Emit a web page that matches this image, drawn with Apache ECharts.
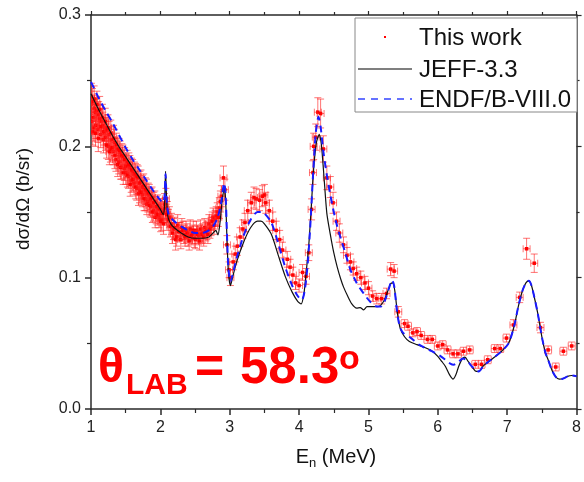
<!DOCTYPE html>
<html>
<head>
<meta charset="utf-8">
<script src="https://cdn.jsdelivr.net/npm/echarts@6/dist/echarts.min.js"></script>
<style>
html,body{margin:0;padding:0;background:#fff;}
#chart{width:584px;height:482px;}
</style>
</head>
<body>
<div id="chart"></div>
<script>
// ---------- DATA ----------
// Experimental data: [E (MeV), dσ/dΩ (b/sr), y-error]
const thisWork = [
[1.00,0.232,0.010],[1.01,0.219,0.010],[1.02,0.234,0.010],[1.03,0.222,0.010],[1.04,0.214,0.010],
[1.05,0.229,0.010],[1.06,0.226,0.010],[1.07,0.216,0.010],[1.08,0.227,0.010],[1.10,0.213,0.010],
[1.11,0.224,0.010],[1.12,0.221,0.010],[1.14,0.209,0.010],[1.15,0.219,0.010],[1.17,0.216,0.010],
[1.18,0.205,0.010],[1.20,0.214,0.010],[1.21,0.207,0.010],[1.23,0.212,0.010],[1.25,0.200,0.010],
[1.26,0.209,0.010],[1.28,0.198,0.010],[1.30,0.205,0.010],[1.32,0.196,0.010],[1.34,0.203,0.010],
[1.36,0.190,0.009],[1.38,0.198,0.009],[1.40,0.188,0.009],[1.42,0.195,0.009],[1.44,0.184,0.009],
[1.46,0.192,0.009],[1.48,0.183,0.009],[1.50,0.180,0.009],[1.52,0.188,0.009],[1.54,0.177,0.009],
[1.56,0.184,0.009],[1.58,0.174,0.009],[1.60,0.181,0.009],[1.62,0.172,0.009],[1.64,0.178,0.009],
[1.66,0.168,0.009],[1.68,0.176,0.009],[1.70,0.166,0.009],[1.72,0.173,0.009],[1.74,0.163,0.009],
[1.76,0.170,0.009],[1.78,0.160,0.009],[1.80,0.166,0.009],[1.82,0.158,0.008],[1.84,0.163,0.008],
[1.86,0.154,0.008],[1.88,0.161,0.008],[1.90,0.151,0.008],[1.92,0.158,0.008],[1.94,0.149,0.008],
[1.96,0.155,0.008],[1.98,0.146,0.008],[2.00,0.152,0.008],[2.02,0.144,0.008],[2.04,0.150,0.008],
[2.06,0.156,0.008],[2.08,0.160,0.008],[2.10,0.150,0.008],[2.13,0.146,0.008],[2.16,0.141,0.008],
[2.19,0.137,0.008],[2.22,0.129,0.008],[2.25,0.140,0.008],[2.28,0.135,0.007],[2.31,0.138,0.007],
[2.34,0.133,0.007],[2.37,0.136,0.007],[2.40,0.131,0.007],[2.43,0.137,0.007],[2.46,0.133,0.007],
[2.49,0.130,0.007],[2.52,0.136,0.007],[2.55,0.132,0.007],[2.58,0.137,0.007],[2.61,0.134,0.007],
[2.64,0.138,0.007],[2.67,0.136,0.007],[2.70,0.141,0.007],[2.73,0.139,0.007],[2.76,0.146,0.007],
[2.79,0.144,0.007],[2.82,0.150,0.007],[2.85,0.153,0.008],[2.88,0.162,0.008],[2.91,0.176,0.009],
[2.93,0.167,0.008],[2.96,0.125,0.007],[2.99,0.106,0.006],[3.01,0.100,0.006],[3.05,0.112,0.006],
[3.08,0.118,0.006],[3.11,0.124,0.007],[3.15,0.131,0.007],[3.19,0.137,0.007],[3.22,0.142,0.007],
[3.26,0.151,0.008],[3.31,0.157,0.008],[3.35,0.161,0.008],[3.38,0.160,0.008],[3.43,0.159,0.008],
[3.47,0.162,0.008],[3.50,0.163,0.008],[3.52,0.157,0.008],[3.57,0.151,0.008],[3.62,0.143,0.007],
[3.67,0.136,0.007],[3.72,0.129,0.007],[3.76,0.121,0.006],[3.83,0.114,0.006],[3.87,0.108,0.006],
[3.91,0.102,0.006],[3.95,0.096,0.005],[4.00,0.094,0.005],[4.05,0.104,0.006],[4.10,0.101,0.006],
[4.14,0.119,0.006],[4.18,0.152,0.008],[4.20,0.180,0.009],[4.21,0.200,0.010],[4.24,0.207,0.010],
[4.27,0.226,0.011],[4.31,0.225,0.011],[4.35,0.198,0.010],[4.40,0.176,0.009],[4.45,0.169,0.008],
[4.49,0.157,0.008],[4.54,0.143,0.007],[4.58,0.134,0.007],[4.64,0.125,0.006],[4.69,0.117,0.006],
[4.74,0.112,0.006],[4.78,0.107,0.005],[4.83,0.103,0.005],[4.89,0.100,0.005],[4.95,0.096,0.005],
[5.00,0.092,0.005],[5.06,0.086,0.004],[5.12,0.084,0.004],[5.19,0.084,0.004],[5.26,0.088,0.004],
[5.32,0.1065,0.005],[5.37,0.105,0.005],[5.43,0.074,0.004],[5.52,0.065,0.003],[5.57,0.063,0.003],
[5.64,0.058,0.003],[5.70,0.059,0.003],[5.76,0.056,0.003],[5.85,0.053,0.003],[5.92,0.053,0.003],
[6.00,0.048,0.003],[6.07,0.049,0.003],[6.14,0.045,0.003],[6.22,0.042,0.003],[6.29,0.042,0.003],
[6.37,0.044,0.003],[6.46,0.045,0.003],[6.54,0.034,0.003],[6.63,0.034,0.003],[6.72,0.0375,0.003],
[6.82,0.046,0.003],[6.90,0.046,0.003],[6.99,0.054,0.003],[7.09,0.064,0.004],[7.18,0.085,0.004],
[7.28,0.122,0.008],[7.39,0.111,0.007],[7.48,0.062,0.004],[7.59,0.045,0.003],[7.70,0.032,0.003],
[7.81,0.044,0.003],[7.93,0.048,0.003],
// interleaved dense points below 2.9 MeV
[1.005,0.238,0.010],[1.025,0.211,0.010],[1.045,0.236,0.010],[1.065,0.210,0.010],[1.085,0.232,0.010],
[1.105,0.206,0.010],[1.125,0.228,0.010],[1.145,0.215,0.010],[1.165,0.222,0.010],[1.185,0.211,0.010],
[1.205,0.219,0.010],[1.225,0.201,0.010],[1.245,0.214,0.010],[1.265,0.196,0.010],[1.285,0.210,0.010],
[1.305,0.199,0.010],[1.325,0.206,0.010],[1.345,0.193,0.010],[1.365,0.201,0.009],[1.385,0.186,0.009],
[1.405,0.197,0.009],[1.425,0.184,0.009],[1.445,0.193,0.009],[1.465,0.180,0.009],[1.485,0.190,0.009],
[1.505,0.185,0.009],[1.525,0.178,0.009],[1.545,0.186,0.009],[1.565,0.171,0.009],[1.585,0.182,0.009],
[1.605,0.175,0.009],[1.625,0.179,0.009],[1.645,0.169,0.009],[1.665,0.177,0.009],[1.685,0.164,0.009],
[1.705,0.172,0.009],[1.725,0.165,0.009],[1.745,0.169,0.009],[1.765,0.160,0.009],[1.785,0.167,0.009],
[1.805,0.156,0.008],[1.825,0.164,0.008],[1.845,0.155,0.008],[1.865,0.160,0.008],[1.885,0.150,0.008],
[1.905,0.157,0.008],[1.925,0.146,0.008],[1.945,0.154,0.008],[1.965,0.148,0.008],[1.985,0.152,0.008],
[2.005,0.143,0.008],[2.025,0.149,0.008],[2.045,0.141,0.008],[2.07,0.153,0.008],[2.09,0.148,0.008],
[2.115,0.144,0.008],[2.145,0.139,0.008],[2.175,0.134,0.008],[2.205,0.138,0.008],[2.235,0.131,0.007],
[2.265,0.135,0.007],[2.295,0.129,0.007],[2.325,0.136,0.007],[2.355,0.131,0.007],[2.385,0.134,0.007],
[2.415,0.128,0.007],[2.445,0.132,0.007],[2.475,0.136,0.007],[2.505,0.129,0.007],[2.535,0.133,0.007],
[2.565,0.128,0.007],[2.595,0.133,0.007],[2.625,0.131,0.007],[2.655,0.135,0.007],[2.685,0.133,0.007],
[2.715,0.137,0.007],[2.745,0.143,0.007],[2.775,0.140,0.007],[2.805,0.147,0.007],[2.835,0.146,0.007],
[2.865,0.158,0.008]
];
const xErr = 0.05;

// JEFF-3.3 evaluation: [E, value]
const jeff = [
[1.00,0.240],[1.10,0.229],[1.20,0.219],[1.30,0.209],[1.40,0.200],[1.50,0.192],[1.60,0.184],
[1.70,0.176],[1.80,0.168],[1.90,0.160],[2.00,0.152],[2.04,0.148],[2.06,0.155],[2.075,0.181],
[2.09,0.160],[2.11,0.146],[2.15,0.141],[2.20,0.138],[2.30,0.134],[2.40,0.131],[2.50,0.130],
[2.60,0.130],[2.70,0.131],[2.76,0.134],[2.80,0.136],[2.83,0.1325],[2.86,0.142],[2.89,0.158],
[2.92,0.168],[2.94,0.160],[2.96,0.130],[2.98,0.105],[3.01,0.094],[3.04,0.100],[3.10,0.112],
[3.20,0.127],[3.30,0.138],[3.40,0.143],[3.45,0.143],[3.50,0.141],[3.60,0.133],[3.70,0.117],
[3.80,0.101],[3.90,0.089],[3.98,0.082],[4.03,0.080],[4.07,0.088],[4.10,0.103],[4.14,0.125],
[4.17,0.149],[4.21,0.183],[4.25,0.203],[4.29,0.209],[4.32,0.202],[4.36,0.176],[4.40,0.149],
[4.45,0.133],[4.50,0.119],[4.55,0.108],[4.60,0.099],[4.64,0.093],[4.70,0.086],[4.76,0.080],
[4.83,0.0768],[4.88,0.0772],[4.93,0.0755],[4.98,0.078],[5.05,0.078],[5.14,0.078],[5.22,0.082],
[5.28,0.090],[5.32,0.0955],[5.35,0.096],[5.38,0.090],[5.42,0.072],[5.46,0.061],[5.52,0.055],
[5.59,0.0514],[5.70,0.049],[5.83,0.0464],[5.92,0.044],[6.00,0.040],[6.06,0.036],[6.11,0.0324],
[6.17,0.026],[6.22,0.0228],[6.26,0.026],[6.30,0.0324],[6.35,0.038],[6.39,0.0395],[6.44,0.036],
[6.49,0.0324],[6.54,0.029],[6.59,0.0286],[6.66,0.033],[6.73,0.036],[6.83,0.040],[6.92,0.044],
[7.02,0.050],[7.10,0.063],[7.16,0.078],[7.22,0.090],[7.27,0.096],[7.31,0.0976],[7.35,0.094],
[7.40,0.083],[7.44,0.073],[7.50,0.055],[7.55,0.043],[7.59,0.0375],[7.65,0.029],[7.70,0.0245],
[7.75,0.0228],[7.80,0.023],[7.87,0.0248],[7.93,0.0255],[8.00,0.025]
];

// ENDF/B-VIII.0 evaluation: [E, value]
const endf = [
[1.00,0.249],[1.10,0.238],[1.20,0.228],[1.30,0.219],[1.40,0.209],[1.50,0.199],[1.60,0.190],
[1.70,0.182],[1.80,0.174],[1.90,0.166],[2.00,0.159],[2.04,0.157],[2.06,0.162],[2.075,0.179],
[2.09,0.160],[2.12,0.148],[2.20,0.143],[2.30,0.139],[2.40,0.136],[2.50,0.134],[2.60,0.134],
[2.70,0.136],[2.76,0.139],[2.82,0.145],[2.87,0.155],[2.92,0.172],[2.94,0.164],[2.96,0.133],
[2.98,0.108],[3.01,0.097],[3.04,0.102],[3.10,0.115],[3.20,0.132],[3.30,0.144],[3.40,0.150],
[3.45,0.150],[3.50,0.149],[3.60,0.142],[3.70,0.126],[3.80,0.108],[3.90,0.094],[3.98,0.086],
[4.04,0.083],[4.08,0.090],[4.12,0.108],[4.16,0.138],[4.20,0.177],[4.24,0.210],[4.28,0.2225],
[4.31,0.215],[4.35,0.196],[4.40,0.178],[4.45,0.163],[4.50,0.150],[4.55,0.139],[4.60,0.130],
[4.66,0.120],[4.74,0.106],[4.83,0.096],[4.93,0.088],[5.02,0.082],[5.12,0.078],[5.18,0.078],
[5.24,0.083],[5.29,0.091],[5.34,0.098],[5.37,0.094],[5.41,0.075],[5.45,0.063],[5.50,0.058],
[5.60,0.0545],[5.73,0.049],[5.92,0.0438],[6.02,0.041],[6.11,0.0375],[6.18,0.0345],[6.23,0.0337],
[6.30,0.036],[6.36,0.0385],[6.42,0.037],[6.48,0.033],[6.54,0.030],[6.59,0.0286],[6.66,0.033],
[6.73,0.036],[6.83,0.040],[6.92,0.044],[7.02,0.050],[7.10,0.063],[7.16,0.078],[7.22,0.090],
[7.27,0.096],[7.31,0.0976],[7.35,0.094],[7.40,0.083],[7.44,0.073],[7.50,0.055],[7.55,0.043],
[7.59,0.0375],[7.65,0.029],[7.70,0.0245],[7.75,0.0228],[7.80,0.023],[7.87,0.0248],[7.93,0.0255],
[8.00,0.025]
];

const seriesNames = ['This work', 'JEFF-3.3', 'ENDF/B-VIII.0'];
const xTicks = {min: 1, max: 8, step: 1};
const yTicks = {min: 0, max: 0.3, step: 0.1};

// ---------- CHART ----------
const FONT = '"Liberation Sans", Arial, sans-serif';
const AX = '#2a2a2a';
const chart = echarts.init(document.getElementById('chart'), null, {renderer: 'canvas'});

function errRender(params, api) {
  const x = api.value(0), y = api.value(1), dy = api.value(2);
  const c = api.coord([x, y]);
  const t = api.coord([x, y + dy]);
  const b = api.coord([x, y - dy]);
  const l = api.coord([x - xErr, y]);
  const r = api.coord([x + xErr, y]);
  const cap = 3.5;
  const st = {stroke: 'rgba(255,30,30,0.62)', lineWidth: 1};
  return {
    type: 'group',
    children: [
      {type: 'line', shape: {x1: c[0], y1: t[1], x2: c[0], y2: b[1]}, style: st},
      {type: 'line', shape: {x1: c[0]-cap, y1: t[1], x2: c[0]+cap, y2: t[1]}, style: st},
      {type: 'line', shape: {x1: c[0]-cap, y1: b[1], x2: c[0]+cap, y2: b[1]}, style: st},
      {type: 'line', shape: {x1: l[0], y1: c[1], x2: r[0], y2: c[1]}, style: st},
      {type: 'line', shape: {x1: l[0], y1: c[1]-cap, x2: l[0], y2: c[1]+cap}, style: st},
      {type: 'line', shape: {x1: r[0], y1: c[1]-cap, x2: r[0], y2: c[1]+cap}, style: st},
      {type: 'rect', shape: {x: c[0]-1.75, y: c[1]-1.75, width: 3.5, height: 3.5}, style: {fill: '#ff0000'}}
    ]
  };
}

const axisCommon = {
  axisLine: {show: true, onZero: false, lineStyle: {color: AX, width: 1.5}},
  splitLine: {show: false}
};

const option = {
  backgroundColor: '#fff',
  animation: false,
  grid: {left: 91, right: 2, top: 15, bottom: 73, containLabel: false},
  xAxis: [
    Object.assign({
      type: 'value', position: 'bottom', min: xTicks.min, max: xTicks.max, interval: xTicks.step,
      axisTick: {show: true, length: 6, lineStyle: {color: AX, width: 1.5}},
      minorTick: {show: true, splitNumber: 2, length: 4, lineStyle: {color: AX, width: 1.2}},
      axisLabel: {margin: 11, fontSize: 16, color: '#222', fontFamily: FONT, showMaxLabel: true}
    }, axisCommon),
    Object.assign({
      type: 'value', position: 'top', min: xTicks.min, max: xTicks.max, interval: xTicks.step,
      axisTick: {show: true, length: 4, lineStyle: {color: AX, width: 1.2}},
      minorTick: {show: true, splitNumber: 2, length: 3, lineStyle: {color: AX, width: 1.2}},
      axisLabel: {show: false}
    }, axisCommon)
  ],
  yAxis: [
    Object.assign({
      type: 'value', position: 'left', min: yTicks.min, max: yTicks.max, interval: yTicks.step,
      axisTick: {show: true, length: 6, lineStyle: {color: AX, width: 1.5}},
      minorTick: {show: true, splitNumber: 2, length: 4, lineStyle: {color: AX, width: 1.2}},
      axisLabel: {margin: 10, fontSize: 16, color: '#222', fontFamily: FONT,
                  formatter: v => v.toFixed(1)}
    }, axisCommon),
    Object.assign({
      type: 'value', position: 'right', min: yTicks.min, max: yTicks.max, interval: yTicks.step,
      axisTick: {show: true, length: 5, lineStyle: {color: AX, width: 1.2}},
      minorTick: {show: true, splitNumber: 2, length: 3, lineStyle: {color: AX, width: 1.2}},
      axisLabel: {show: false}
    }, axisCommon)
  ],
  series: [
    {
      name: seriesNames[0], type: 'custom', xAxisIndex: 0, yAxisIndex: 0,
      renderItem: errRender, data: thisWork, clip: true, z: 2,
      encode: {x: 0, y: 1}
    },
    {
      name: seriesNames[1], type: 'line', data: jeff, xAxisIndex: 0, yAxisIndex: 0,
      symbol: 'none', showSymbol: false, smooth: 0.25, z: 3,
      lineStyle: {color: '#111', width: 1.2}
    },
    {
      name: seriesNames[2], type: 'line', data: endf, xAxisIndex: 0, yAxisIndex: 0,
      symbol: 'none', showSymbol: false, smooth: 0.25, z: 4,
      lineStyle: {color: '#1a1aff', width: 2, type: [7, 5]}
    }
  ],
  graphic: [
    // axis titles
    {type: 'text', x: 24, y: 199, rotation: Math.PI/2, z: 10,
     style: {text: 'dσ/dΩ (b/sr)', fontSize: 19, fontFamily: FONT, fill: '#111',
             align: 'center', verticalAlign: 'middle'}},
    {type: 'text', x: 336, y: 457, z: 10,
     style: {text: '{e|E}{s|n}{e| (MeV)}', align: 'center', verticalAlign: 'middle',
             rich: {e: {fontSize: 20, fontFamily: FONT, fill: '#111'},
                    s: {fontSize: 13, fontFamily: FONT, fill: '#111', padding: [12, 0, 0, 0]}}}},
    // legend box
    {type: 'rect', shape: {x: 355, y: 18, width: 222, height: 94}, z: 20,
     style: {fill: '#fff', stroke: '#888', lineWidth: 1}},
    {type: 'rect', shape: {x: 384, y: 36, width: 2, height: 2}, z: 21, style: {fill: '#ff0000'}},
    {type: 'text', x: 419, y: 38, z: 21,
     style: {text: seriesNames[0], fontSize: 24, fontFamily: FONT, fill: '#111', verticalAlign: 'middle'}},
    {type: 'line', shape: {x1: 358, y1: 69, x2: 412, y2: 69}, z: 21,
     style: {stroke: '#555', lineWidth: 1.5}},
    {type: 'text', x: 419, y: 70, z: 21,
     style: {text: seriesNames[1], fontSize: 24, fontFamily: FONT, fill: '#111', verticalAlign: 'middle'}},
    {type: 'line', shape: {x1: 358, y1: 99, x2: 412, y2: 99}, z: 21,
     style: {stroke: '#3344ff', lineWidth: 1.5, lineDash: [7, 6]}},
    {type: 'text', x: 419, y: 100, z: 21,
     style: {text: seriesNames[2], fontSize: 24, fontFamily: FONT, fill: '#111', verticalAlign: 'middle'}},
    // angle annotation
    {type: 'text', x: 98, y: 369, z: 30,
     style: {text: 'θ', fontSize: 48, fontWeight: 'bold', fontFamily: FONT, fill: '#ff0000', verticalAlign: 'middle'}},
    {type: 'text', x: 126, y: 386, z: 30,
     style: {text: 'LAB', fontSize: 30, fontWeight: 'bold', fontFamily: FONT, fill: '#ff0000', verticalAlign: 'middle'}},
    {type: 'text', x: 195, y: 369, z: 30,
     style: {text: '=', fontSize: 50, fontWeight: 'bold', fontFamily: FONT, fill: '#ff0000', verticalAlign: 'middle'}},
    {type: 'text', x: 240, y: 369, z: 30,
     style: {text: '58.3', fontSize: 51, fontWeight: 'bold', fontFamily: FONT, fill: '#ff0000', verticalAlign: 'middle'}},
    {type: 'text', x: 339, y: 360, z: 30,
     style: {text: 'o', fontSize: 34, fontWeight: 'bold', fontFamily: FONT, fill: '#ff0000', verticalAlign: 'middle'}}
  ]
};
chart.setOption(option);
</script>
</body>
</html>
